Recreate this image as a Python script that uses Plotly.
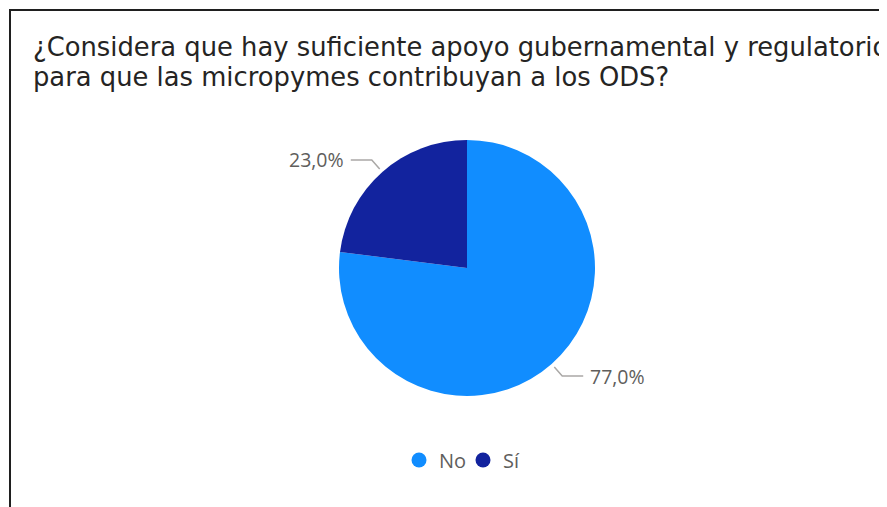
import math
import plotly.graph_objects as go

# Survey answers
labels = ['No', 'Sí']
values = [77.0, 23.0]
colors = ['#118DFF', '#12239E']
title_lines = ['¿Considera que hay suficiente apoyo gubernamental y regulatorio',
               'para que las micropymes contribuyan a los ODS?']

OFF = 8                      # page body margin
W, H = 887, 507 - OFF
cx, cy, r = 467, 268, 128    # pie centre / radius, page pixels


def px(x):
    return (x - OFF) / W


def py(y):
    return 1 - (y - OFF) / H


fig = go.Figure()

fig.add_trace(go.Pie(
    labels=labels,
    values=values,
    marker=dict(colors=colors),
    sort=False,
    direction='clockwise',
    rotation=0,
    textinfo='none',
    hoverinfo='label+percent',
    showlegend=False,
    domain=dict(x=[px(cx - r), px(cx + r)], y=[py(cy + r), py(cy - r)]),
))

# legend with round markers
for lab, col in zip(labels, colors):
    fig.add_trace(go.Scatter(
        x=[None], y=[None], mode='markers', name=lab,
        marker=dict(symbol='circle', size=15, color=col),
    ))

# data labels with elbow leader lines
shapes = []
annotations = []
total = sum(values)
start = 0.0
for v in values:
    mid = math.radians((start + v / 2) / total * 360)
    start += v
    sx, sy = math.sin(mid), -math.cos(mid)
    x0, y0 = cx + (r + 4) * sx, cy + (r + 4) * sy
    x1, y1 = cx + (r + 16) * sx, cy + (r + 16) * sy
    side = 1 if sx >= 0 else -1
    x2 = x1 + 21 * side
    shapes.append(dict(
        type='path', xref='paper', yref='paper',
        path=f'M {px(x0)} {py(y0)} L {px(x1)} {py(y1)} L {px(x2)} {py(y1)}',
        line=dict(color='#AAA8A6', width=1.5),
    ))
    annotations.append(dict(
        x=px(x2 + 5 * side), y=py(y1), xref='paper', yref='paper',
        text=f'{v:.1f}%'.replace('.', ','), showarrow=False,
        xanchor='left' if side > 0 else 'right', yanchor='middle',
        font=dict(family='Open Sans, Segoe UI, sans-serif', size=19.5, color='#605E5C'),
    ))

# title, two lines with tight spacing
for i, line in enumerate(title_lines):
    annotations.append(dict(
        x=px(31), y=py(47 + 30 * i), xref='paper', yref='paper',
        text=line, showarrow=False, align='left',
        xanchor='left', yanchor='middle',
        font=dict(family='DejaVu Sans, sans-serif', size=25.8, color='#252423'),
    ))

# frame (left + top edge)
shapes.append(dict(
    type='path', xref='paper', yref='paper',
    path=f'M {px(10)} {py(520)} L {px(10)} {py(10)} L {px(900)} {py(10)}',
    line=dict(color='#1F1F1F', width=2),
))

fig.update_layout(
    width=W, height=H,
    margin=dict(l=0, r=0, t=0, b=0),
    paper_bgcolor='white',
    plot_bgcolor='white',
    xaxis=dict(visible=False, domain=[0, 0.01]),
    yaxis=dict(visible=False, domain=[0, 0.01]),
    showlegend=True,
    legend=dict(
        orientation='h', x=px(cx - 4), xanchor='center',
        y=py(460), yanchor='middle',
        font=dict(family='Open Sans, Segoe UI, sans-serif', size=20, color='#605E5C'),
        itemwidth=30, tracegroupgap=0,
        entrywidth=19, entrywidthmode='pixels',
    ),
    shapes=shapes,
    annotations=annotations,
)

fig.write_html('out.html')
